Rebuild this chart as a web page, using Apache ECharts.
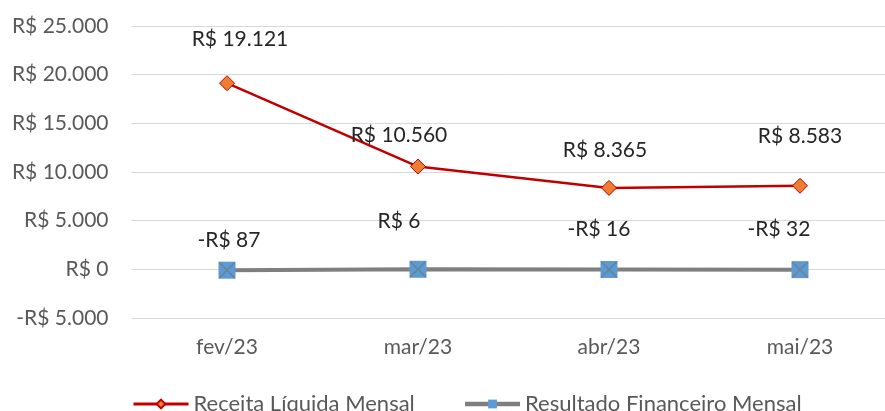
<!DOCTYPE html>
<html>
<head>
<meta charset="utf-8">
<script src="https://cdn.jsdelivr.net/npm/echarts@6/dist/echarts.min.js"></script>
<style>
  html, body { margin: 0; padding: 0; background: #fff; }
  #chart { width: 885px; height: 411px; }
</style>
</head>
<body>
<div id="chart"></div>
<script>
const months = ['fev/23', 'mar/23', 'abr/23', 'mai/23']
const receita = [19121, 10560, 8365, 8583]
const resultado = [-87, 6, -16, -32]

// deslocamento manual dos rótulos (como no Excel)
const receitaLabelShift = [[13, -20], [-19, -8], [-4, -14], [0, -26]]
const resultadoLabelShift = [[2, -6], [-19, -24], [-10, -16], [-21, -16]]

const FONT = 'Lato, "Open Sans", sans-serif'
const FS = 21

const brl = v => {
  const s = Math.abs(v).toString().replace(/\B(?=(\d{3})+(?!\d))/g, '.')
  return (v < 0 ? '-R$ ' : 'R$ ') + s
}

const withLabels = (values, shifts) => values.map((v, i) => ({
  value: v,
  label: { offset: shifts[i] }
}))

const chart = echarts.init(document.getElementById('chart'))

const xMark = 'path://M0,0 L1.5,0 L10,8.5 L18.5,0 L20,0 L20,1.5 L11.5,10 L20,18.5 L20,20 L18.5,20 L10,11.5 L1.5,20 L0,20 L0,18.5 L8.5,10 L0,1.5 Z'

chart.setOption({
  animation: false,
  grid: {
    left: 131.5,
    width: 764,
    top: 26,
    bottom: 93,
    outerBoundsMode: 'none',
    containLabel: false
  },
  legend: {
    data: [
      { name: 'Receita Líquida Mensal', lineStyle: { width: 3 } },
      { name: 'Resultado Financeiro Mensal', lineStyle: { width: 4.5 } }
    ],
    left: 127,
    top: 388,
    itemWidth: 55,
    itemHeight: 11,
    itemGap: 48,
    textStyle: { color: '#595959', fontSize: 22, fontFamily: FONT }
  },
  xAxis: {
    type: 'category',
    data: months,
    boundaryGap: true,
    axisLine: { show: false },
    axisTick: { show: false },
    axisLabel: { color: '#595959', fontSize: FS, fontFamily: FONT, margin: 19 }
  },
  yAxis: {
    type: 'value',
    min: -5000,
    max: 25000,
    interval: 5000,
    axisLine: { show: false },
    axisTick: { show: false },
    axisLabel: {
      color: '#595959',
      fontSize: FS,
      fontFamily: FONT,
      margin: 23,
      formatter: v => brl(v)
    },
    splitLine: { lineStyle: { color: '#d9d9d9', width: 1 } }
  },
  series: [
    {
      name: 'Receita Líquida Mensal',
      type: 'line',
      data: withLabels(receita, receitaLabelShift),
      symbol: 'diamond',
      symbolSize: 15,
      lineStyle: { color: '#c00000', width: 2.5 },
      itemStyle: { color: '#ed7d31', borderColor: '#c00000', borderWidth: 1 },
      label: {
        show: true,
        position: 'top',
        distance: 5,
        color: '#262626',
        fontSize: FS,
        fontFamily: FONT,
        formatter: p => brl(p.value)
      },
      z: 3
    },
    {
      name: 'Resultado Financeiro Mensal',
      type: 'line',
      data: withLabels(resultado, resultadoLabelShift),
      symbol: 'rect',
      symbolSize: 17,
      lineStyle: { color: '#7f7f7f', width: 4 },
      itemStyle: { color: '#5b9bd5', borderWidth: 0 },
      label: {
        show: true,
        position: 'top',
        distance: 5,
        color: '#262626',
        fontSize: FS,
        fontFamily: FONT,
        formatter: p => brl(p.value)
      },
      z: 2
    },
    {
      name: 'marcas',
      type: 'scatter',
      data: resultado,
      symbol: xMark,
      symbolSize: 16,
      itemStyle: { color: '#6f7f8f', opacity: 0.85 },
      silent: true,
      z: 4
    }
  ]
})
</script>
</body>
</html>
